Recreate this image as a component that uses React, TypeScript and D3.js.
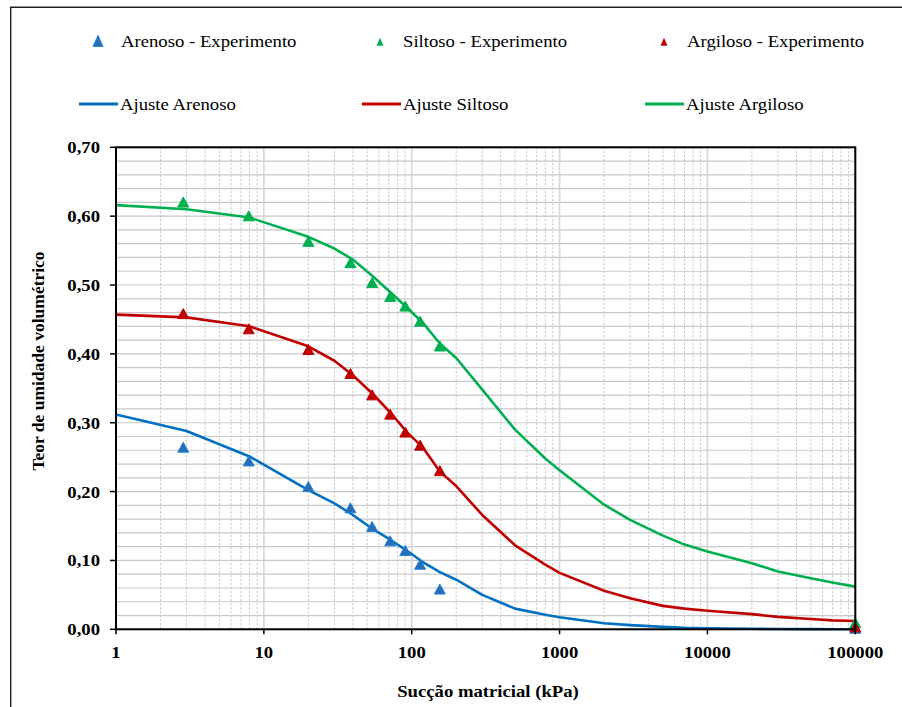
import React from "react";
import * as d3 from "d3";

const expX = [2.85, 7.9, 20, 38.5, 54, 71.5, 90.5, 114, 155, 100000];
const arenosoExp = [0.263, 0.243, 0.206, 0.175, 0.148, 0.127, 0.113, 0.093, 0.057, 0.0];
const siltosoExp = [0.619, 0.599, 0.562, 0.531, 0.502, 0.482, 0.468, 0.446, 0.41, 0.008];
const argilosoExp = [0.457, 0.435, 0.405, 0.37, 0.339, 0.311, 0.285, 0.266, 0.229, 0.002];

const fitX = [1, 3, 8, 20, 30, 40, 55, 73, 93, 118, 155, 200, 300, 500, 800, 1000, 2000, 3000, 5000, 7000, 10000, 20000, 30000, 50000, 70000, 100000];
const ajusteArenoso = [0.312, 0.288, 0.251, 0.202, 0.183, 0.166, 0.145, 0.129, 0.114, 0.098, 0.083, 0.072, 0.05, 0.03, 0.021, 0.0174, 0.0087, 0.006, 0.0035, 0.002, 0.0015, 0.0008, 0.0005, 0.0003, 0.0001, 0.0];
const ajusteSiltoso = [0.457, 0.453, 0.44, 0.411, 0.39, 0.369, 0.341, 0.313, 0.286, 0.265, 0.229, 0.208, 0.166, 0.122, 0.094, 0.082, 0.056, 0.045, 0.034, 0.03, 0.027, 0.022, 0.018, 0.015, 0.013, 0.012];
const ajusteArgiloso = [0.616, 0.61, 0.598, 0.57, 0.553, 0.537, 0.512, 0.488, 0.467, 0.446, 0.415, 0.394, 0.348, 0.29, 0.248, 0.231, 0.181, 0.159, 0.136, 0.123, 0.113, 0.096, 0.084, 0.074, 0.068, 0.062];

const yTicks = [0, 0.1, 0.2, 0.3, 0.4, 0.5, 0.6, 0.7];
const xTicks = [1, 10, 100, 1000, 10000, 100000];

const BLUE = "#0070C0";
const GREEN = "#00B050";
const RED = "#C00000";
const FONT = "'Liberation Serif', 'Times New Roman', serif";

const L = 116, R = 855.3, T = 147.3, B = 629.3;

function Txt(props: { x: number; y: number; anchor?: string; bold?: boolean; size?: number; children: React.ReactNode }) {
  const { x, y, anchor = "start", bold = false, size = 17, children } = props;
  return (
    <text
      transform={`translate(${x},${y}) scale(1.1,1)`}
      textAnchor={anchor}
      fontFamily={FONT}
      fontSize={size}
      fontWeight={bold ? "bold" : "normal"}
      fill="#000"
    >
      {children}
    </text>
  );
}

function tri(cx: number, cy: number, w: number, h: number) {
  return `M${cx},${cy - h * 0.6}L${cx + w / 2},${cy + h * 0.4}L${cx - w / 2},${cy + h * 0.4}Z`;
}

export default function App() {
  const x = d3.scaleLog().domain([1, 100000]).range([L, R]);
  const y = d3.scaleLinear().domain([0, 0.7]).range([B, T]);

  const minorX: number[] = [];
  for (let d = 1; d < 100000; d *= 10) for (let k = 2; k <= 9; k++) minorX.push(k * d);
  const gridY = d3.range(0, 36).map((i) => i * 0.02);

  const line = d3
    .line<number>()
    .x((_, i) => x(fitX[i]))
    .y((v) => y(v));

  const expSeries = [
    { vals: arenosoExp, fill: "#2A6DB5", stroke: "#1F86D6" },
    { vals: siltosoExp, fill: GREEN, stroke: GREEN },
    { vals: argilosoExp, fill: RED, stroke: RED },
  ];
  const fitSeries = [
    { vals: ajusteArenoso, color: BLUE },
    { vals: ajusteSiltoso, color: RED },
    { vals: ajusteArgiloso, color: GREEN },
  ];

  return (
    <svg width={902} height={707} style={{ position: "absolute", left: 0, top: 0, background: "#fff" }}>
      <rect x={0} y={0} width={902} height={707} fill="#fff" />
      <path d="M10.7,707V7.2H902" fill="none" stroke="#222" strokeWidth={1.4} />

      {/* grid */}
      {gridY.map((v, i) => (
        <line key={"gy" + i} x1={L} x2={R} y1={y(v)} y2={y(v)} stroke="#c9c9c9" strokeWidth={1.2} />
      ))}
      {minorX.map((v, i) => (
        <line key={"mx" + i} x1={x(v)} x2={x(v)} y1={T} y2={B} stroke="#c0c0c0" strokeWidth={1} strokeDasharray="2,2" />
      ))}
      {xTicks.map((v, i) => (
        <line key={"gx" + i} x1={x(v)} x2={x(v)} y1={T} y2={B} stroke="#d6d6d6" strokeWidth={1.6} />
      ))}

      {/* fit lines */}
      {fitSeries.map((s, i) => (
        <path key={"f" + i} d={line(s.vals) || ""} fill="none" stroke={s.color} strokeWidth={2.6} strokeLinejoin="round" />
      ))}

      {/* experimental markers */}
      {expSeries.map((s, i) =>
        s.vals.map((v, j) => (
          <path
            key={"m" + i + "-" + j}
            d={tri(x(expX[j]), y(v), 11, 10)}
            fill={s.fill}
            stroke={s.stroke}
            strokeWidth={1}
          />
        ))
      )}

      {/* frame */}
      <rect x={L} y={T} width={R - L} height={B - T} fill="none" stroke="#000" strokeWidth={2} />

      {/* y ticks */}
      {yTicks.map((v, i) => (
        <g key={"yt" + i}>
          <line x1={L - 6} x2={L} y1={y(v)} y2={y(v)} stroke="#000" strokeWidth={1.5} />
          <Txt x={100} y={y(v) + 6} anchor="end" bold>
            {d3.format(".2f")(v).replace(".", ",")}
          </Txt>
        </g>
      ))}
      {/* x ticks */}
      {xTicks.map((v, i) => (
        <g key={"xt" + i}>
          <line x1={x(v)} x2={x(v)} y1={B} y2={B + 5} stroke="#000" strokeWidth={1.5} />
          <Txt x={x(v)} y={658} anchor="middle" bold>
            {String(v)}
          </Txt>
        </g>
      ))}

      {/* axis titles */}
      <Txt x={488} y={697} anchor="middle" bold>
        Sucção matricial (kPa)
      </Txt>
      <text
        transform="translate(44,361) rotate(-90)"
        textAnchor="middle"
        fontFamily={FONT}
        fontSize={17.5}
        fontWeight="bold"
      >
        Teor de umidade volumétrico
      </text>

      {/* legend row 1 */}
      <path d={tri(98, 42, 10, 11)} fill="#2A6DB5" stroke="#1F86D6" strokeWidth={1} />
      <Txt x={121} y={47}>Arenoso - Experimento</Txt>
      <path d={tri(380, 42.5, 7, 8)} fill={GREEN} />
      <Txt x={403} y={47}>Siltoso - Experimento</Txt>
      <path d={tri(664, 42.5, 7, 8)} fill={RED} />
      <Txt x={687} y={47}>Argiloso - Experimento</Txt>

      {/* legend row 2 */}
      <line x1={79} x2={118} y1={104} y2={104} stroke={BLUE} strokeWidth={3} />
      <Txt x={120} y={110}>Ajuste Arenoso</Txt>
      <line x1={362} x2={401} y1={104} y2={104} stroke={RED} strokeWidth={3} />
      <Txt x={403} y={110}>Ajuste Siltoso</Txt>
      <line x1={645} x2={684} y1={104} y2={104} stroke={GREEN} strokeWidth={3} />
      <Txt x={686} y={110}>Ajuste Argiloso</Txt>
    </svg>
  );
}
